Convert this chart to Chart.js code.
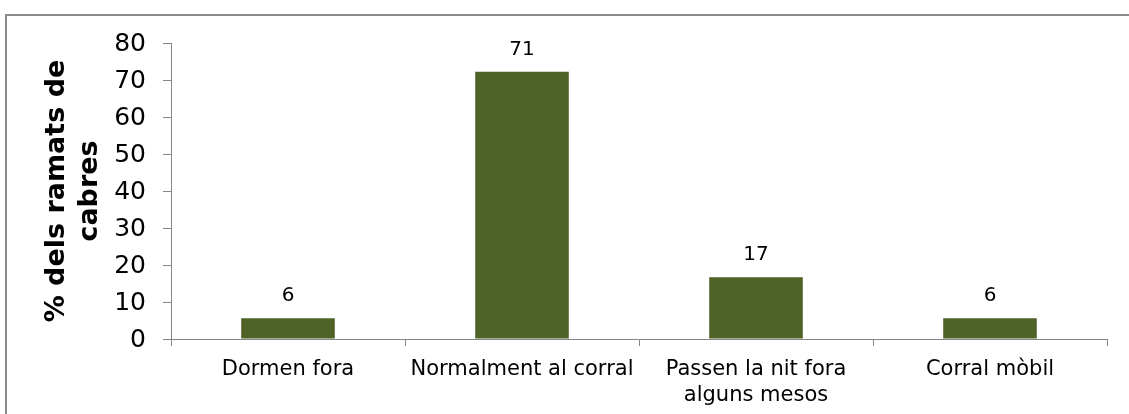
<!DOCTYPE html>
<html>
<head>
<meta charset="utf-8">
<script src="https://cdn.jsdelivr.net/npm/chart.js@4.4.1/dist/chart.umd.min.js"></script>
<style>
  html, body { margin: 0; padding: 0; background: #fff; overflow: hidden; }
  #wrap { position: relative; width: 1129px; height: 414px; overflow: hidden; }
  #frame {
    position: absolute; left: 5px; top: 14px; width: 1400px; height: 600px;
    border-top: 2px solid #8c8c8c; border-left: 2px solid #8c8c8c;
  }
  #chart { position: absolute; left: 0; top: 0; }
</style>
</head>
<body>
<div id="wrap">
  <div id="frame"></div>
  <canvas id="chart" width="1129" height="414"></canvas>
</div>
<script>
// Data
const categories = ['Dormen fora', 'Normalment al corral', ['Passen la nit fora', 'alguns mesos'], 'Corral mòbil'];
const barValues = [5.6, 72.2, 16.7, 5.6];
const valueLabels = ['6', '71', '17', '6'];
const yTicks = [0, 10, 20, 30, 40, 50, 60, 70, 80];
const yTitle = ['% dels ramats de', 'cabres'];

const FONT = "'DejaVu Sans', Verdana, sans-serif";
const AXIS = '#868686';

// Draws the value above each bar
const barLabels = {
    id: 'barLabels',
    afterDatasetsDraw(chart) {
        const ctx = chart.ctx;
        const meta = chart.getDatasetMeta(0);
        ctx.save();
        ctx.font = '20px ' + FONT;
        ctx.fillStyle = '#000';
        ctx.textAlign = 'center';
        ctx.textBaseline = 'middle';
        meta.data.forEach((bar, i) => {
            ctx.fillText(valueLabels[i], bar.x, bar.y - 22);
        });
        ctx.restore();
    }
};

new Chart(document.getElementById('chart'), {
    type: 'bar',
    data: {
        labels: categories,
        datasets: [{
            data: barValues,
            backgroundColor: '#4F6228',
            borderWidth: 0,
            barPercentage: 0.4,
            categoryPercentage: 1
        }]
    },
    options: {
        responsive: false,
        animation: false,
        events: [],
        layout: {
            padding: { left: 6, right: 22, top: 43, bottom: 0 }
        },
        plugins: {
            legend: { display: false },
            tooltip: { enabled: false }
        },
        scales: {
            x: {
                afterFit(scale) { scale.height = 75; },
                border: { color: AXIS, width: 1 },
                grid: {
                    offset: true,
                    drawOnChartArea: false,
                    drawTicks: true,
                    tickLength: 7,
                    color: AXIS
                },
                ticks: {
                    color: '#000',
                    padding: 10,
                    maxRotation: 0,
                    autoSkip: false,
                    font: { family: FONT, size: 21, lineHeight: 1.25 }
                }
            },
            y: {
                min: 0,
                max: 80,
                afterFit(scale) { scale.width = 171 - 6; },
                afterBuildTicks(scale) {
                    scale.ticks = yTicks.map(v => ({ value: v }));
                },
                border: { color: AXIS, width: 1 },
                grid: {
                    drawOnChartArea: false,
                    drawTicks: true,
                    tickLength: 8,
                    color: AXIS
                },
                ticks: {
                    color: '#000',
                    padding: 17,
                    labelOffset: 1,
                    font: { family: FONT, size: 25 }
                },
                title: {
                    display: true,
                    text: yTitle,
                    color: '#000',
                    padding: { top: 35, bottom: 0 },
                    font: { family: FONT, size: 27, weight: 'bold', lineHeight: 1.22 }
                }
            }
        }
    },
    plugins: [barLabels]
});
</script>
</body>
</html>
